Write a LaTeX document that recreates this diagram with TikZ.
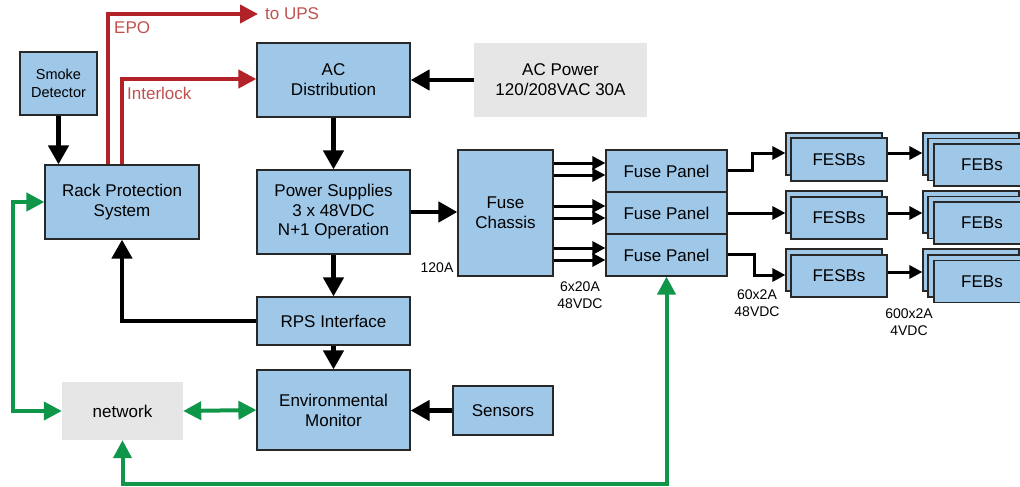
\documentclass[tikz,border=0pt]{standalone}
\usepackage{fontspec}
\setmainfont{Liberation Sans}
\usetikzlibrary{arrows.meta,calc}
\definecolor{boxblue}{RGB}{158,199,232}
\definecolor{boxgray}{RGB}{230,230,230}
\definecolor{redline}{RGB}{178,34,40}
\definecolor{redtext}{RGB}{192,80,77}
\definecolor{greenline}{RGB}{16,150,72}
\definecolor{edgecol}{RGB}{40,40,40}
\begin{document}
\begin{tikzpicture}[x=1pt,y=-1pt,
  box/.style={draw=edgecol, line width=1.2pt, fill=boxblue, align=center, inner sep=0pt, font=\fontsize{17}{20}\selectfont},
  graybox/.style={fill=boxgray, align=center, inner sep=0pt, font=\fontsize{17}{20}\selectfont},
  blk/.style={draw=black, line width=4.5pt, -{Triangle[length=19pt,width=20pt]}},
  thinblk/.style={draw=black, line width=3pt, -{Triangle[length=13pt,width=13pt]}},
  redarrow/.style={draw=redline, line width=4pt, -{Triangle[length=18pt,width=18pt]}},
  greenarrow/.style={draw=greenline, line width=4pt, {Triangle[length=18pt,width=18pt]}-{Triangle[length=18pt,width=18pt]}},
  smalltext/.style={font=\fontsize{14}{16.5}\selectfont, align=center, inner sep=0pt},
  redlabel/.style={text=redtext, font=\fontsize{17}{20}\selectfont, inner sep=0pt, anchor=west}
]
\useasboundingbox (0,0) rectangle (1020,487);
\clip (0,0) rectangle (1020,487);

% main boxes
\node[box, minimum width=77pt, minimum height=63pt, font=\fontsize{14.5}{18}\selectfont] (smoke) at (58.5,83.5) {Smoke\\Detector};
\node[box, minimum width=154pt, minimum height=74pt] (rps) at (122,202) {Rack Protection\\System};
\node[box, minimum width=153pt, minimum height=74pt] (acd) at (333.5,80) {AC\\Distribution};
\node[graybox, minimum width=173pt, minimum height=74pt] (acp) at (560.5,80) {AC Power\\120/208VAC 30A};
\node[box, minimum width=153pt, minimum height=84pt, font=\fontsize{17}{19.5}\selectfont] (ps) at (333.5,212) {Power Supplies\\3 x 48VDC\\N+1 Operation};
\node[box, minimum width=153pt, minimum height=48pt] (rpsi) at (333.5,321) {RPS Interface};
\node[box, minimum width=153pt, minimum height=80pt] (env) at (333.5,410) {Environmental\\Monitor};
\node[box, minimum width=100pt, minimum height=49pt] (sensors) at (503,410.5) {Sensors};
\node[graybox, minimum width=121pt, minimum height=58pt] (network) at (122.5,411) {network};
\node[box, minimum width=95pt, minimum height=126pt] (fc) at (505.5,213) {Fuse\\Chassis};
\node[box, minimum width=121pt, minimum height=42pt] (fp1) at (666.5,171) {Fuse Panel};
\node[box, minimum width=121pt, minimum height=42pt] (fp2) at (666.5,213) {Fuse Panel};
\node[box, minimum width=121pt, minimum height=42pt] (fp3) at (666.5,255) {Fuse Panel};

% FESBs (stacked)
\node[box, minimum width=96pt, minimum height=42pt] (fesb1b) at (834,154) {};
\node[box, minimum width=96pt, minimum height=43pt] (fesb1) at (839,159.5) {FESBs};
\node[box, minimum width=96pt, minimum height=42pt] (fesb2b) at (834,212) {};
\node[box, minimum width=96pt, minimum height=42pt] (fesb2) at (839,218) {FESBs};
\node[box, minimum width=96pt, minimum height=42pt] (fesb3b) at (834,270) {};
\node[box, minimum width=96pt, minimum height=42pt] (fesb3) at (839,276) {FESBs};

% FEBs (stacked)
\node[box, minimum width=96pt, minimum height=42pt] (feb1b) at (971,154) {};
\node[box, minimum width=96pt, minimum height=42pt] (feb1m) at (976,159.5) {};
\node[box, minimum width=96pt, minimum height=42pt] (feb1) at (982,165) {FEBs};
\node[box, minimum width=96pt, minimum height=42pt] (feb2b) at (971,212) {};
\node[box, minimum width=96pt, minimum height=42pt] (feb2m) at (976,217.5) {};
\node[box, minimum width=96pt, minimum height=42pt] (feb2) at (982,223) {FEBs};
\node[box, minimum width=96pt, minimum height=42pt] (feb3b) at (971,270) {};
\node[box, minimum width=96pt, minimum height=42pt] (feb3m) at (976,276) {};
\node[box, minimum width=96pt, minimum height=42pt] (feb3) at (982,281.5) {FEBs};

% labels
\node[smalltext] (l120) at (437,268) {120A};
\node[smalltext] (l6x20) at (580,295) {6x20A\\48VDC};
\node[smalltext] (l60x2) at (757,303) {60x2A\\48VDC};
\node[smalltext] (l600x2) at (909,322) {600x2A\\4VDC};

% black arrows
\draw[blk] (acp.west) -- (acd.east);
\draw[blk] (acd.south) -- (ps.north);
\draw[blk] (ps.east) -- (ps.east -| fc.west);
\draw[blk] (ps.south) -- (rpsi.north);
\draw[blk] (rpsi.south) -- (env.north);
\draw[blk] (sensors.west) -- (sensors.west -| env.east);
\draw[blk] (rpsi.west) -| (rps.south);
\draw[blk] (smoke.south) -- (smoke.south |- rps.north);

% fuse chassis to panels
\draw[thinblk] (fc.east |- 0,163) -- (fp1.west |- 0,163);
\draw[thinblk] (fc.east |- 0,175) -- (fp1.west |- 0,175);
\draw[thinblk] (fc.east |- 0,206) -- (fp2.west |- 0,206);
\draw[thinblk] (fc.east |- 0,218) -- (fp2.west |- 0,218);
\draw[thinblk] (fc.east |- 0,248) -- (fp3.west |- 0,248);
\draw[thinblk] (fc.east |- 0,260) -- (fp3.west |- 0,260);

% panels to FESBs
\coordinate (t1) at (fesb1b.west |- 0,153);
\coordinate (t3) at (fesb3b.west |- 0,275);
\draw[thinblk] (fp1.east |- 0,170) -- (752,170) |- (t1);
\draw[thinblk] (fp2.east) -- (fp2.east -| fesb2b.west);
\draw[thinblk] (fp3.east |- 0,254) -- (754,254) |- (t3);

% FESBs to FEBs
\draw[thinblk] (fesb1.east |- 0,153) -- (feb1b.west |- 0,153);
\draw[thinblk] (fesb2.east |- 0,213) -- (feb2b.west |- 0,213);
\draw[thinblk] (fesb3.east |- 0,272) -- (feb3b.west |- 0,272);

% red arrows
\coordinate (ups) at (258,14);
\draw[redarrow] ([xshift=-14pt]rps.north) |- (ups);
\node[redlabel] (upslbl) at (265,14) {to UPS};
\node[redlabel] (epolbl) at (114,28) {EPO};
\draw[redarrow] (rps.north) |- (acd.west |- 0,79);
\node[redlabel] (intlbl) at (127,93) {Interlock};

% green arrows
\draw[greenarrow] (rps.west) -- (13,202) -- (13,411) -- (network.west);
\draw[greenarrow] (network.east) -- (env.west);
\draw[greenarrow] (network.south) -- (122.5,484) -- (666.5,484) -- (fp3.south);
\end{tikzpicture}
\end{document}
